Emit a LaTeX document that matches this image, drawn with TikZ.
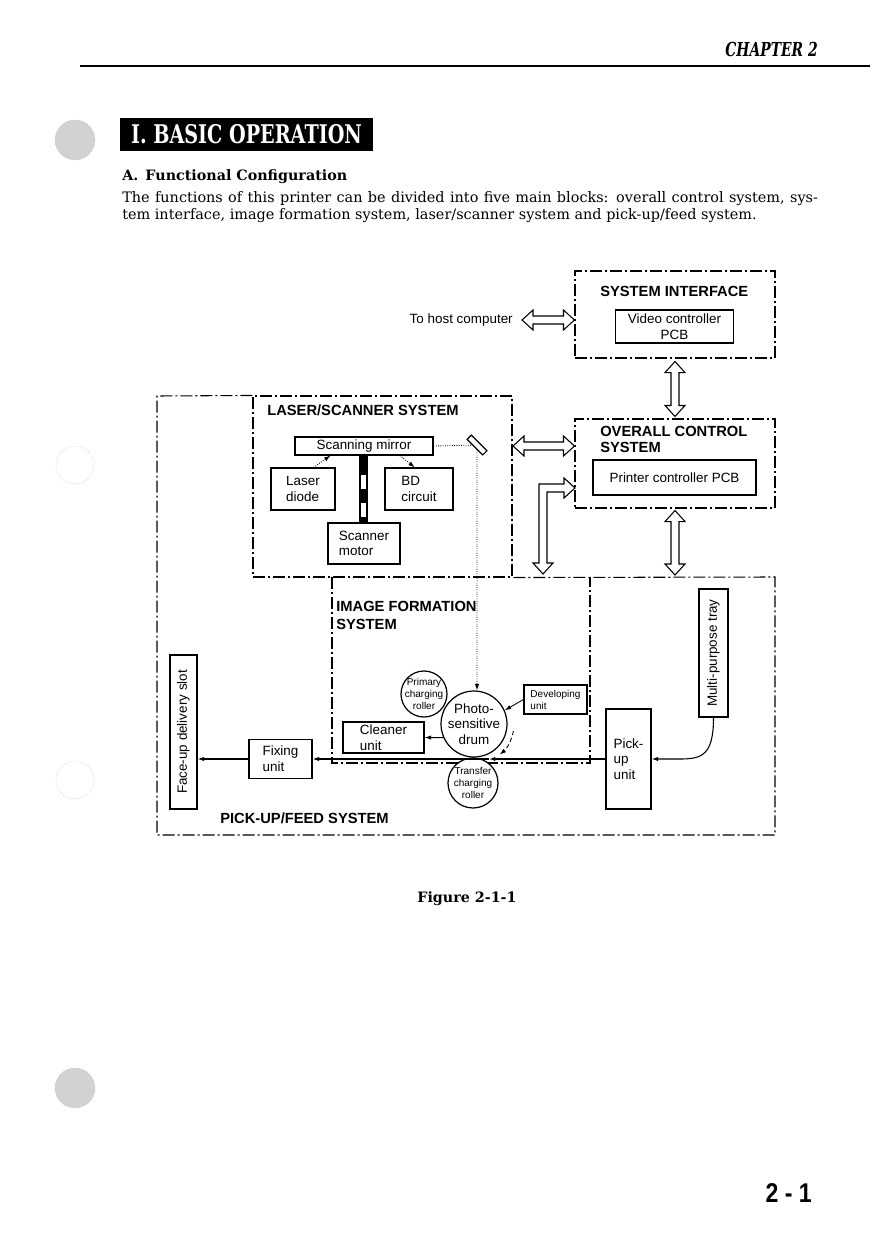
\documentclass[tikz,border=0pt]{standalone}
\usepackage{fontspec}
\setmainfont{DejaVu Serif}
\setsansfont{Liberation Sans}
\usetikzlibrary{arrows.meta,calc,fit}

\newcommand{\boxfont}{\sffamily\fontsize{9.4}{11}\selectfont}
\newcommand{\rollerfont}{\sffamily\fontsize{7}{8.4}\selectfont}
\newcommand{\titlefont}{\sffamily\bfseries\fontsize{10.3}{11.4}\selectfont}

% hollow double arrows, tips given as named coordinates
\newcommand{\vhollow}[2]{%
  \draw[hollow] (#1) -- ++(10,11) -- ++(-6,0) -- ($(#2)+(4,-11)$) -- ++(6,0)
    -- (#2) -- ++(-10,-11) -- ++(6,0) -- ($(#1)+(-4,11)$) -- ++(-6,0) -- cycle;}
\newcommand{\hhollow}[2]{%
  \draw[hollow] (#1) -- ++(11,-10) -- ++(0,6) -- ($(#2)+(-11,-4)$) -- ++(0,-6)
    -- (#2) -- ++(-11,10) -- ++(0,-6) -- ($(#1)+(11,4)$) -- ++(0,6) -- cycle;}

\tikzset{
  sysframe/.style={draw, line width=0.75pt, dash pattern=on 8.4pt off 2.1pt on 1.4pt off 2.1pt},
  unitbox/.style 2 args={draw, line width=0.85pt, fill=white, inner sep=0pt,
    minimum width=#1*0.7pt, minimum height=#2*0.7pt, align=left, font=\boxfont},
  roller/.style={draw, circle, line width=0.85pt, fill=white, inner sep=0pt, minimum size=#1*0.7pt},
  systitle/.style={inner sep=0pt, align=left, font=\titlefont},
  beam/.style={densely dotted, line width=0.6pt},
  smallhead/.style={-{Latex[length=4.5pt,width=3pt]}},
  feed/.style={line width=0.75pt, smallhead},
  hollow/.style={draw, line width=0.75pt, fill=white},
  pagetext/.style={inner sep=0pt, anchor=base west},
}

\begin{document}
\begin{tikzpicture}[x=0.7pt, y=-0.7pt]
\fill[white] (0,0) rectangle (876,1240);
\useasboundingbox (0,0) rectangle (876,1240);

% punch holes
\filldraw[fill=gray!35, draw=gray!55, densely dotted] (75,140) circle[radius=20];
\draw[gray!45, densely dotted] (75,465) circle[radius=19];
\draw[gray!45, densely dotted] (75,780) circle[radius=19];
\filldraw[fill=gray!35, draw=gray!55, densely dotted] (75,1088) circle[radius=20];

% page head
\node[pagetext, anchor=base east, font=\bfseries\itshape\fontsize{13.5}{13.5}\selectfont] (chapter) at (818,57) {\scalebox{0.72}[1]{CHAPTER 2}};
\draw[line width=1.4pt] (80,66) -- (870,66);
\node[fill=black, text=white, inner sep=0pt, minimum width=253*0.7pt, minimum height=33*0.7pt,
  font=\bfseries\fontsize{18}{18}\selectfont] (basicop) at (246.5,134.5) {\scalebox{0.745}[1]{I. BASIC OPERATION}};
\node[pagetext, font=\bfseries\fontsize{10}{12}\selectfont] (subhead) at (122,181) {A.\hspace{0.5em}Functional Configuration};
\node[pagetext, font=\fontsize{10.1}{12}\selectfont] (line1) at (122,203)
  {\makebox[487pt][s]{The functions of this printer can be divided into five main blocks: overall control system, sys-}};
\node[pagetext, font=\fontsize{10.1}{12}\selectfont] (line2) at (122,220)
  {tem interface, image formation system, laser/scanner system and pick-up/feed system.};

% system frames
\node[sysframe, fit={(575,271) (775,358)}, inner sep=0pt] (sysif) {};
\node[sysframe, fit={(575,419) (775,508)}, inner sep=0pt] (ovctl) {};
\node[sysframe, fit={(253,396) (512,577)}, inner sep=0pt] (lsframe) {};
\coordinate (pf-ne) at (775,577);
\draw[sysframe] (lsframe.north west) -- (157,396) -- (157,835) -- (775,835) -- (pf-ne) -- (lsframe.south east);
\draw[sysframe] (332,577) -- (332,763) -- (590,763) -- (590,577);

\node[systitle, anchor=west] at (600,291) {SYSTEM INTERFACE};
\node[systitle, anchor=west] at (267,410) {LASER/SCANNER SYSTEM};
\node[systitle, anchor=north west] at (600,426) {OVERALL CONTROL\\SYSTEM};
\node[systitle, anchor=north west, font=\titlefont\linespread{1.1}\selectfont] at (336,601) {IMAGE FORMATION\\SYSTEM};
\node[systitle, anchor=west] at (220,818) {PICK-UP/FEED SYSTEM};

% units
\node[unitbox={118}{33}, align=center] (video) at (674.5,326.5) {Video controller\\PCB};
\node[unitbox={163}{35}] (printer) at (674.5,477.5) {Printer controller PCB};
\node[unitbox={138}{18}] (mirror) at (364,446) {Scanning mirror};
\node[unitbox={64}{42}] (laser) at (303,489) {Laser\\diode};
\node[unitbox={68}{42}] (bd) at (419,489) {BD\\circuit};
\node[unitbox={72}{41}] (motor) at (364,543.5) {Scanner\\motor};
\node[unitbox={154}{27}, rotate=90] (faceup) at (183.5,732) {Face-up delivery slot};
\node[unitbox={63}{39}] (fixing) at (280.5,759) {Fixing\\unit};
\node[unitbox={81}{31}] (cleaner) at (383.5,737.5) {Cleaner\\unit};
\node[unitbox={63}{29}, font=\rollerfont] (develop) at (555.5,699.5) {Developing\\unit};
\node[unitbox={45}{100}] (pickup) at (628.5,759) {Pick-\\up\\unit};
\node[unitbox={128}{29}, rotate=90] (mptray) at (713.5,653) {Multi-purpose tray};

% scanner shaft
\fill (359,455) rectangle (368,523);
\fill[white] (361,475) rectangle (366,489);
\fill[white] (361,503) rectangle (366,517);

% drum and rollers
\node[roller=46, label={[font=\rollerfont, align=center]center:Primary\\charging\\roller}] (primary) at (424,694) {};
\node[roller=50, label={[font=\rollerfont, align=center]center:Transfer\\charging\\roller}] (transfer) at (473,783) {};
\node[roller=66, label={[font=\boxfont, align=center]center:Photo-\\sensitive\\drum}] (drum) at (474,724) {};

% laser beam
\node[draw, fill=white, line width=0.8pt, rotate=-45, inner sep=0pt,
  minimum width=22*0.7pt, minimum height=6*0.7pt] (refl) at (477,445) {};
\draw[beam, smallhead] (laser.64) -- (mirror.196);
\draw[beam, smallhead] (mirror.-15) -- (bd.101);
\draw[beam] (mirror.east) -- (refl);
\draw[beam, smallhead] (refl) -- (refl |- drum.north);

% image formation
\draw[feed, line width=0.6pt] (develop.west) -- (drum.24);
\draw[feed, line width=0.6pt] (drum.204) -- (cleaner.east);
\draw[line width=0.6pt, densely dashed, smallhead] ($(drum.center)+(10:40)$) arc[start angle=10, end angle=50, radius=40];

% paper path
\coordinate (nip) at (489,759);
\draw[feed] (pickup.west) -- (nip);
\draw[feed] (nip) -- (fixing.east);
\draw[feed] (fixing.west) -- (fixing.west -| faceup.south);
\draw[feed] (mptray.west) .. controls +(0,38) and +(22,0) .. ($(pickup.east)+(28,0)$) -- (pickup.east);

% interfaces between systems
\coordinate (h1) at (522,320);
\coordinate (h2) at (h1 -| sysif.west);
\hhollow{h1}{h2}
\node[anchor=east, inner sep=0pt, font=\boxfont] (host) at (513,320) {To host computer};
\coordinate (a1) at ($(sysif.south)+(0,3)$);
\coordinate (a2) at ($(ovctl.north)+(0,-2)$);
\vhollow{a1}{a2}
\coordinate (a3) at ($(ovctl.south)+(0,2)$);
\coordinate (a4) at ($(ovctl.south |- pf-ne)+(0,-2)$);
\vhollow{a3}{a4}
\coordinate (b1) at (513,446);
\coordinate (b2) at (b1 -| ovctl.west);
\hhollow{b1}{b2}
\coordinate (c1) at (575,488);
\coordinate (c2) at (543,488);
\coordinate (c3) at (543,574);
\draw[hollow] (c1) -- ++(-11,-10) -- ++(0,6) -- ($(c2)+(-4,-4)$) -- ($(c3)+(-4,-11)$) -- ++(-6,0)
  -- (c3) -- ++(10,-11) -- ++(-6,0) -- ($(c2)+(4,4)$) -- ($(c1)+(-11,4)$) -- ++(0,6) -- cycle;

% caption and folio
\node[anchor=base, inner sep=0pt, font=\bfseries\fontsize{10}{12}\selectfont] (caption) at (467,902) {Figure 2-1-1};
\node[anchor=base east, inner sep=0pt, font=\sffamily\bfseries\fontsize{19}{19}\selectfont] (folio) at (812,1202) {\scalebox{0.85}[1]{2 - 1}};
\end{tikzpicture}
\end{document}
